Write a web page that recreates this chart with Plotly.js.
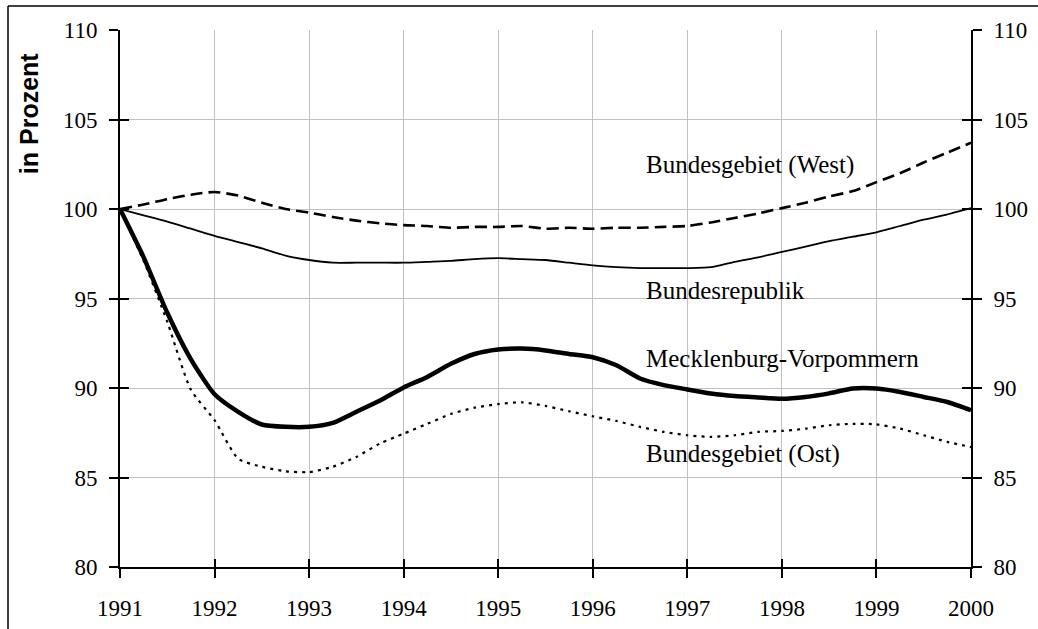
<!DOCTYPE html>
<html>
<head>
<meta charset="utf-8">
<script src="https://cdn.plot.ly/plotly-3.0.1.min.js"></script>
<style>
  html, body { margin: 0; padding: 0; background: #fff; overflow: hidden; }
  #chart { width: 1038px; height: 629px; }
</style>
</head>
<body>
<div id="chart"></div>
<script>
// Quarterly time positions
const years = [
  1991, 1991.25, 1991.5, 1991.75,
  1992, 1992.25, 1992.5, 1992.75,
  1993, 1993.25, 1993.5, 1993.75,
  1994, 1994.25, 1994.5, 1994.75,
  1995, 1995.25, 1995.5, 1995.75,
  1996, 1996.25, 1996.5, 1996.75,
  1997, 1997.25, 1997.5, 1997.75,
  1998, 1998.25, 1998.5, 1998.75,
  1999, 1999.25, 1999.5, 1999.75,
  2000
];

const westValues = [
  100, 100.25, 100.55, 100.8,
  100.95, 100.75, 100.35, 100.0,
  99.8, 99.55, 99.35, 99.2,
  99.1, 99.05, 98.95, 99.0,
  99.0, 99.05, 98.9, 98.95,
  98.9, 98.95, 98.95, 99.0,
  99.05, 99.25, 99.5, 99.75,
  100.05, 100.35, 100.7, 101.0,
  101.5, 102.0, 102.6, 103.15,
  103.7
];

const brdValues = [
  100, 99.65, 99.3, 98.9,
  98.5, 98.15, 97.8, 97.4,
  97.15, 97.0, 97.0, 97.0,
  97.0, 97.05, 97.1, 97.2,
  97.25, 97.2, 97.15, 97.0,
  96.85, 96.75, 96.7, 96.7,
  96.7, 96.75, 97.05, 97.3,
  97.6, 97.9, 98.2, 98.45,
  98.7, 99.05, 99.4, 99.7,
  100.05
];

const mvValues = [
  100, 97.3, 94.2, 91.6,
  89.65, 88.67, 87.96, 87.83,
  87.83, 88.05, 88.67, 89.3,
  90.03, 90.62, 91.35, 91.9,
  92.15, 92.2, 92.1, 91.9,
  91.72, 91.27, 90.53, 90.16,
  89.92, 89.69, 89.55, 89.47,
  89.4, 89.5, 89.7, 89.97,
  89.97, 89.78, 89.5, 89.22,
  88.76
];

const ostValues = [
  100, 97.1, 93.7, 89.9,
  88.2, 86.05, 85.6, 85.35,
  85.3, 85.6, 86.15, 86.9,
  87.45, 88.0, 88.55, 88.9,
  89.1, 89.2, 89.0, 88.7,
  88.42, 88.16, 87.83, 87.55,
  87.36, 87.27, 87.36, 87.55,
  87.6, 87.73, 87.92, 88.0,
  87.97, 87.73, 87.36, 86.99,
  86.7
];

const seriesNames = ['Bundesgebiet (West)', 'Bundesrepublik', 'Mecklenburg-Vorpommern', 'Bundesgebiet (Ost)'];
const yTicks = [80, 85, 90, 95, 100, 105, 110];
const yTickLabels = ['80', '85', '90', '95', '100', '105', '110'];
const xTicks = [1991, 1992, 1993, 1994, 1995, 1996, 1997, 1998, 1999, 2000];
const xTickLabels = ['1991', '1992', '1993', '1994', '1995', '1996', '1997', '1998', '1999', '2000'];
// label anchor positions (data coords)
const labelX = 1996.54;
const labelY = [102.45, 95.47, 91.67, 86.3];

const SERIF = '"Liberation Serif", "Times New Roman", Times, serif';
function tickFont() { return { family: SERIF, size: 23, color: '#000000' }; }

const traces = [
  { x: years, y: westValues, name: seriesNames[0], mode: 'lines',
    line: { color: '#000', width: 2.6, dash: '12px,6px', shape: 'spline', smoothing: 0.6 } },
  { x: years, y: brdValues, name: seriesNames[1], mode: 'lines',
    line: { color: '#000', width: 1.8, shape: 'spline', smoothing: 0.6 } },
  { x: years, y: mvValues, name: seriesNames[2], mode: 'lines',
    line: { color: '#000', width: 4.5, shape: 'spline', smoothing: 0.6 } },
  { x: years, y: ostValues, name: seriesNames[3], mode: 'lines',
    line: { color: '#000', width: 2.2, dash: '3px,5px', shape: 'spline', smoothing: 0.6 } },
  // empty helper traces so the overlay axes are drawn
  { x: [], y: [], xaxis: 'x', yaxis: 'y2', showlegend: false },
  { x: [], y: [], xaxis: 'x2', yaxis: 'y3', showlegend: false },
  { x: [], y: [], xaxis: 'x', yaxis: 'y4', showlegend: false }
];
traces.forEach(t => { t.showlegend = false; t.hoverinfo = 'skip'; });

const annotations = seriesNames.map((n, i) => ({
  x: labelX, y: labelY[i], xref: 'x', yref: 'y', text: n, showarrow: false,
  xanchor: 'left', yanchor: 'middle', font: { family: SERIF, size: 25, color: '#000' }
}));
annotations.push({
  x: -0.107, y: 0.845, xref: 'paper', yref: 'paper', text: '<b>in Prozent</b>',
  textangle: -90, showarrow: false, xanchor: 'center', yanchor: 'middle',
  font: { family: '"Liberation Sans", Arial, sans-serif', size: 25, color: '#000' }
});

const layout = {
  width: 1038, height: 629,
  margin: { l: 120, r: 67, t: 30, b: 62, pad: 0 },
  paper_bgcolor: '#fff', plot_bgcolor: '#fff',
  font: { family: SERIF, size: 23, color: '#000' },
  showlegend: false,
  xaxis: {
    range: [1991, 2000], tickmode: 'array', tickvals: xTicks, ticktext: xTickLabels,
    showgrid: true, gridcolor: '#c0c0c0', gridwidth: 1,
    showline: true, linecolor: '#000', linewidth: 2,
    ticks: 'outside', ticklen: 9, tickwidth: 2, tickcolor: '#000',
    tickfont: tickFont(), ticklabelstandoff: 10, zeroline: false, fixedrange: true
  },
  xaxis2: {
    range: [1991, 2000], tickmode: 'array', tickvals: xTicks, overlaying: 'x', anchor: 'y', side: 'bottom',
    showgrid: false, showline: false, showticklabels: false,
    ticks: 'inside', ticklen: 8, tickwidth: 2, tickcolor: '#000', zeroline: false
  },
  yaxis: {
    range: [80, 110], tickmode: 'array', tickvals: yTicks, ticktext: yTickLabels,
    showgrid: true, gridcolor: '#c0c0c0', gridwidth: 1,
    showline: true, linecolor: '#000', linewidth: 2,
    ticks: 'outside', ticklen: 9, tickwidth: 2, tickcolor: '#000',
    tickfont: tickFont(), ticklabelstandoff: 7, zeroline: false, fixedrange: true
  },
  yaxis2: {
    range: [80, 110], tickmode: 'array', tickvals: yTicks, ticktext: yTickLabels,
    overlaying: 'y', side: 'right', anchor: 'x',
    showgrid: false, showline: true, linecolor: '#000', linewidth: 2,
    ticks: 'outside', ticklen: 9, tickwidth: 2, tickcolor: '#000',
    tickfont: tickFont(), ticklabelstandoff: 7, zeroline: false
  },
  yaxis3: {
    range: [80, 110], tickmode: 'array', tickvals: yTicks, overlaying: 'y', side: 'left', anchor: 'x2',
    showgrid: false, showline: false, showticklabels: false,
    ticks: 'inside', ticklen: 9, tickwidth: 2, tickcolor: '#000', zeroline: false
  },
  yaxis4: {
    range: [80, 110], tickmode: 'array', tickvals: yTicks, overlaying: 'y', side: 'right', anchor: 'x',
    showgrid: false, showline: false, showticklabels: false,
    ticks: 'inside', ticklen: 9, tickwidth: 2, tickcolor: '#000', zeroline: false
  },
  annotations: annotations,
  shapes: [
    { type: 'line', xref: 'paper', yref: 'paper', x0: -0.1316, x1: -0.1316, y0: 1.0447, y1: -0.2,
      line: { color: '#000', width: 1.5 } },
    { type: 'line', xref: 'paper', yref: 'paper', x0: -0.1316, x1: 1.2, y0: 1.0447, y1: 1.0447,
      line: { color: '#000', width: 1.5 } }
  ]
};

Plotly.newPlot('chart', traces, layout, { displayModeBar: false, staticPlot: true });
</script>
</body>
</html>
